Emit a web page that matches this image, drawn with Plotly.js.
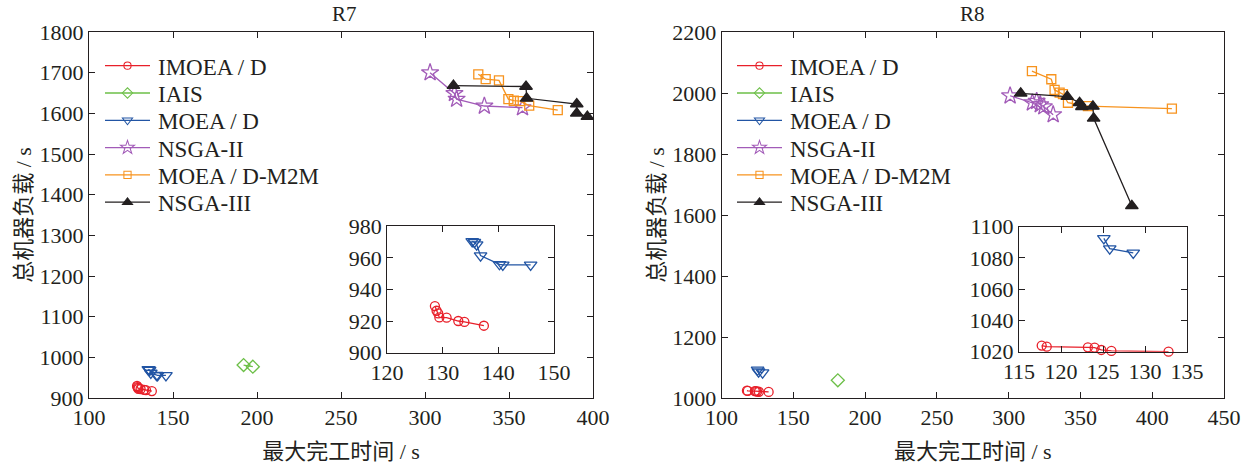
<!DOCTYPE html>
<html>
<head>
<meta charset="utf-8">
<script src="https://cdn.plot.ly/plotly-3.0.1.min.js"></script>
<style>html,body{margin:0;padding:0;background:#fff}</style>
</head>
<body>
<div id="chart" style="width:1250px;height:466px"></div>
<script>
// Series names (legend order)
const seriesNames = ['IMOEA / D', 'IAIS', 'MOEA / D', 'NSGA-II', 'MOEA / D-M2M', 'NSGA-III'];

// Instance R7: makespan (s) and total machine workload (s)
const r7_imoead_x = [128.6, 128.9, 129.2, 129.4, 130.7, 132.8, 133.9, 137.4];
const r7_imoead_y = [929.5, 926.5, 924.8, 922.3, 922.1, 920.0, 919.4, 917.0];
const r7_iais_x   = [192.0, 197.5];
const r7_iais_y   = [981, 977];
const r7_moead_x  = [135.3, 135.7, 136.1, 136.8, 140.2, 140.8, 145.8];
const r7_moead_y  = [970.5, 970.0, 968.5, 961.5, 956.0, 955.6, 955.6];
const r7_nsga2_x  = [303.0, 317.5, 318.8, 335.3, 358.0];
const r7_nsga2_y  = [1700, 1649, 1635, 1618, 1614];
const r7_m2m_x    = [331.7, 336.1, 344.0, 349.6, 352.8, 356.5, 362.0, 379.0];
const r7_m2m_y    = [1696, 1684, 1681, 1635, 1631, 1630, 1619, 1608];
const r7_nsga3_x  = [316.9, 360.1, 360.5, 390.3, 390.3, 396.6];
const r7_nsga3_y  = [1668, 1666, 1637, 1623, 1600, 1592];

// Instance R8
const r8_imoead_x = [117.7, 118.3, 123.2, 124.0, 124.8, 126.0, 132.8];
const r8_imoead_y = [1023.9, 1023.2, 1022.8, 1022.6, 1021.1, 1020.5, 1020.0];
const r8_iais_x   = [181.0];
const r8_iais_y   = [1058];
const r8_moead_x  = [125.1, 125.8, 128.6];
const r8_moead_y  = [1092.5, 1086.0, 1083.2];
const r8_nsga2_x  = [301.0, 316.5, 319.5, 322.0, 324.5, 331.0];
const r8_nsga2_y  = [1991, 1968, 1973, 1962, 1955, 1929];
const r8_m2m_x    = [316.2, 329.7, 332.0, 335.5, 337.8, 341.3, 355.2, 413.7];
const r8_m2m_y    = [2072, 2045, 2010, 2001, 1996, 1968, 1957, 1948.6];
const r8_nsga3_x  = [308.4, 340.8, 349.4, 351.0, 358.7, 359.2, 385.8];
const r8_nsga3_y  = [1999, 1988, 1968, 1955, 1956, 1917, 1630];

// Axis tick values
const r7_xticks = [100, 150, 200, 250, 300, 350, 400];
const r7_yticks = [900, 1000, 1100, 1200, 1300, 1400, 1500, 1600, 1700, 1800];
const r8_xticks = [100, 150, 200, 250, 300, 350, 400, 450];
const r8_yticks = [1000, 1200, 1400, 1600, 1800, 2000, 2200];
const r7_inset_xticks = [120, 130, 140, 150];
const r7_inset_yticks = [900, 920, 940, 960, 980];
const r8_inset_xticks = [115, 120, 125, 130, 135];
const r8_inset_yticks = [1020, 1040, 1060, 1080, 1100];

const styles = [
  {color: '#e8202a', symbol: 'circle-open', size: 9},
  {color: '#6cbf47', symbol: 'diamond-open', size: 10},
  {color: '#2255a4', symbol: 'triangle-down-open', size: 11},
  {color: '#a25bb8', symbol: 'star-open', size: 13},
  {color: '#f7931e', symbol: 'square-open', size: 9},
  {color: '#231f20', symbol: 'triangle-up', size: 11}
];

function series(i, xs, ys, xa, ya, legendKey, showlegend) {
  const s = styles[i];
  return {
    type: 'scatter', mode: 'lines+markers', name: seriesNames[i],
    x: xs, y: ys, xaxis: xa, yaxis: ya,
    legend: legendKey, showlegend: showlegend, cliponaxis: false,
    line: {color: s.color, width: 1.3},
    marker: {symbol: s.symbol, size: s.size, color: s.color, line: {color: s.color, width: 1.3}}
  };
}

const r7 = [[r7_imoead_x, r7_imoead_y], [r7_iais_x, r7_iais_y], [r7_moead_x, r7_moead_y],
            [r7_nsga2_x, r7_nsga2_y], [r7_m2m_x, r7_m2m_y], [r7_nsga3_x, r7_nsga3_y]];
const r8 = [[r8_imoead_x, r8_imoead_y], [r8_iais_x, r8_iais_y], [r8_moead_x, r8_moead_y],
            [r8_nsga2_x, r8_nsga2_y], [r8_m2m_x, r8_m2m_y], [r8_nsga3_x, r8_nsga3_y]];

const traces = [];
r7.forEach((d, i) => traces.push(series(i, d[0], d[1], 'x', 'y', 'legend', true)));
r8.forEach((d, i) => traces.push(series(i, d[0], d[1], 'x2', 'y2', 'legend2', true)));
// zoomed insets: IMOEA/D and MOEA/D
[0, 2].forEach(i => traces.push(series(i, r7[i][0], r7[i][1], 'x3', 'y3', 'legend', false)));
[0, 2].forEach(i => traces.push(series(i, r8[i][0], r8[i][1], 'x4', 'y4', 'legend2', false)));

const ink = '#231f20';
const serif = 'Liberation Serif, Times New Roman, serif';
const cjk = 'Liberation Serif, Noto Sans CJK SC, serif';
const tickFont = {family: serif, size: 22, color: ink};
const titleFont = {family: cjk, size: 22, color: ink};

function axis(domain, range, ticks, extra) {
  return Object.assign({
    domain: domain, range: range, tickvals: ticks, ticktext: ticks.map(String),
    showline: true, linecolor: ink, linewidth: 1, mirror: 'ticks',
    ticks: 'inside', ticklen: 6, tickcolor: ink, tickwidth: 1,
    showgrid: false, zeroline: false, tickfont: tickFont, fixedrange: true
  }, extra || {});
}

const legendStyle = {
  font: {family: serif, size: 23, color: ink},
  bgcolor: 'rgba(0,0,0,0)', borderwidth: 0,
  xanchor: 'left', yanchor: 'top', tracegroupgap: 0
};

const layout = {
  width: 1250, height: 466,
  margin: {l: 89, r: 26, t: 32, b: 68},
  paper_bgcolor: '#fff', plot_bgcolor: '#fff',
  xaxis: axis([0, 0.4441], [100, 400], r7_xticks, {anchor: 'y',
    title: {text: '最大完工时间 / s', font: titleFont, standoff: 14}}),
  yaxis: axis([0, 1], [900, 1800], r7_yticks, {anchor: 'x',
    title: {text: '总机器负载 / s', font: titleFont, standoff: 1}}),
  xaxis2: axis([0.5573, 1], [100, 450], r8_xticks, {anchor: 'y2',
    title: {text: '最大完工时间 / s', font: titleFont, standoff: 14}}),
  yaxis2: axis([0, 1], [1000, 2200], r8_yticks, {anchor: 'x2',
    title: {text: '总机器负载 / s', font: titleFont, standoff: 1}}),
  xaxis3: axis([0.2626, 0.4097], [120, 150], r7_inset_xticks, {anchor: 'y3'}),
  yaxis3: axis([0.1243, 0.4686], [900, 980], r7_inset_yticks, {anchor: 'x3'}),
  xaxis4: axis([0.8194, 0.9674], [115, 135], r8_inset_xticks, {anchor: 'y4'}),
  yaxis4: axis([0.1265, 0.468], [1020, 1100], r8_inset_yticks, {anchor: 'x4'}),
  legend: Object.assign({x: 0.009, y: 0.958}, legendStyle),
  legend2: Object.assign({x: 0.5713, y: 0.958}, legendStyle),
  annotations: [
    {text: 'R7', xref: 'paper', yref: 'paper', x: 0.225, y: 1.049, showarrow: false,
     xanchor: 'center', yanchor: 'middle', font: {family: serif, size: 21, color: ink}},
    {text: 'R8', xref: 'paper', yref: 'paper', x: 0.7786, y: 1.049, showarrow: false,
     xanchor: 'center', yanchor: 'middle', font: {family: serif, size: 21, color: ink}}
  ],
  showlegend: true
};

// legend rows: sample line start (x) and first-row centre (y), in page pixels
const legendSpots = {legend: {x: 105, y: 65.7}, legend2: {x: 737, y: 65.7}};
const rowStep = 27.3;

function styleLegends(gd) {
  Object.keys(legendSpots).forEach(key => {
    const root = gd.querySelector('g.' + key);
    if (!root) return;
    root.removeAttribute('clip-path');
    root.querySelectorAll('[clip-path]').forEach(e => e.removeAttribute('clip-path'));
    const spot = legendSpots[key];
    root.querySelectorAll('.traces').forEach((tr, i) => {
      // longer sample lines, smaller markers, text after the line
      tr.querySelectorAll('.legendlines path').forEach(p => p.setAttribute('d', 'M0,0h45'));
      tr.querySelectorAll('.legendpoints path').forEach(p =>
        p.setAttribute('transform', 'translate(22.5,0) scale(0.8)'));
      tr.querySelectorAll('text').forEach(t => t.setAttribute('transform', 'translate(13,0)'));
      // evenly spaced rows
      const ctm = tr.getCTM();
      const own = tr.transform.baseVal.consolidate();
      const tx = own ? own.matrix.e : 0, ty = own ? own.matrix.f : 0;
      const ox = ctm.e - tx, oy = ctm.f - ty;
      tr.setAttribute('transform', 'translate(' + (spot.x - ox) + ',' + (spot.y + i * rowStep - oy) + ')');
    });
  });
}

const gd = document.getElementById('chart');
Plotly.newPlot(gd, traces, layout, {staticPlot: true, displayModeBar: false}).then(() => {
  styleLegends(gd);
  setTimeout(() => styleLegends(gd), 150);
});
</script>
</body>
</html>
